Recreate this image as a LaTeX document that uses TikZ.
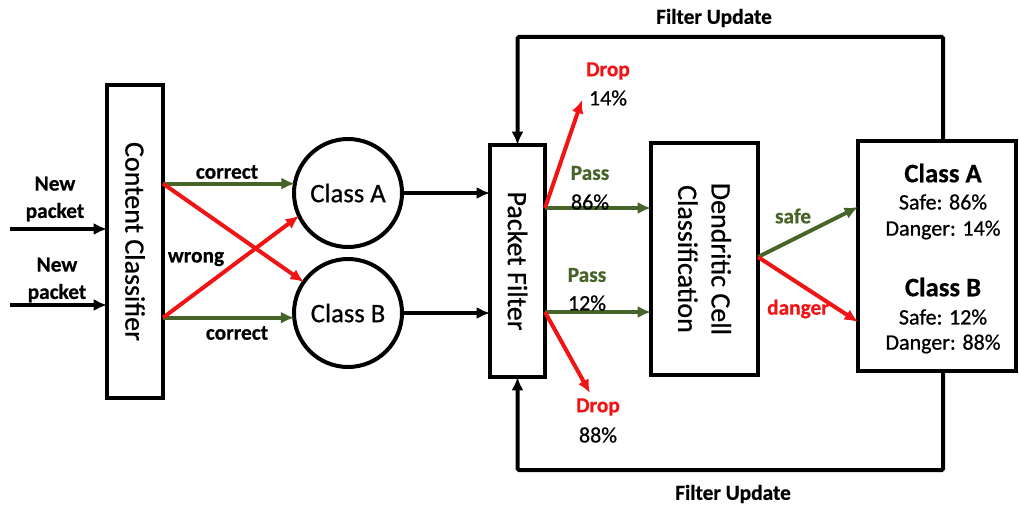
\documentclass[tikz,border=0pt]{standalone}
\usepackage{fontspec}
\setmainfont{Carlito}[FakeBold=0.7,BoldFeatures={FakeBold=0.6}]
\usetikzlibrary{arrows.meta,calc}
\definecolor{dgreen}{RGB}{70,100,40}
\definecolor{dred}{RGB}{240,20,20}
\begin{document}
\begin{tikzpicture}[x=0.75pt,y=-0.75pt,
  box/.style={draw,line width=3pt,inner sep=0pt,outer sep=0pt},
  circ/.style={draw,circle,line width=3pt,minimum size=81pt,inner sep=0pt,outer sep=0pt,font=\fontsize{20}{24}\selectfont},
  arr/.style={line width=3pt,-{Latex[length=10pt,width=9pt]}},
  garr/.style={arr,draw=dgreen},
  rarr/.style={arr,draw=dred},
  big/.style={font=\fontsize{21}{25}\selectfont,rotate=-90,align=center},
  lbl/.style={font=\bfseries\fontsize{16}{20}\selectfont,align=center,inner sep=0pt},
  blk/.style={font=\bfseries\fontsize{16}{20.5}\selectfont,align=center,inner sep=0pt},
  num/.style={font=\fontsize{16.5}{20}\selectfont,inner sep=0pt}]
\useasboundingbox (0,0) rectangle (1019,506);
% boxes
\node[box,minimum width=42pt,minimum height=234.75pt] (cc) at (135,241.5) {};
\node[big] at (cc.center) {Content Classifier};
\node[circ] (a) at (348,193) {Class A};
\node[circ] (b) at (348,313) {Class B};
\node[box,minimum width=41.25pt,minimum height=174pt] (pf) at (517.5,261) {};
\node[big] at (pf.center) {Packet Filter};
\node[box,minimum width=80.25pt,minimum height=174pt] (dc) at (704.5,259) {};
\node[big] at (dc.center) {Dendritic Cell\\Classification};
\node[box,minimum width=118.5pt,minimum height=172.5pt] (rb) at (937,256) {};
\node[font=\bfseries\fontsize{20}{24}\selectfont,inner sep=0pt] (rca) at (943,173) {Class A};
\node[num] (rsa) at (943,202) {Safe: 86\%};
\node[num] (rda) at (943,230) {Danger: 14\%};
\node[font=\bfseries\fontsize{20}{24}\selectfont,inner sep=0pt] (rcb) at (943,287) {Class B};
\node[num] (rsb) at (943,317) {Safe: 12\%};
\node[num] (rdb) at (943,344) {Danger: 88\%};
% inputs
\coordinate (in1) at (10,229);
\coordinate (in2) at (10,305);
\draw[arr] (in1) -- (in1 -| cc.west);
\draw[arr] (in2) -- (in2 -| cc.west);
\node[blk] (np1) at (55,199) {New\\packet};
\node[blk] (np2) at (57,280) {New\\packet};
% classifier outputs
\draw[garr] (cc.east |- a.170) -- (a.170);
\draw[garr] (cc.east |- b.185) -- (b.185);
\draw[rarr] (cc.east |- a.170) -- (b.145);
\draw[rarr] (cc.east |- b.185) -- (a.205);
\node[blk] (lc1) at (227,172) {correct};
\node[blk] (lc2) at (237,333) {correct};
\node[blk] (lw) at (196,259) {wrong};
% circles to filter
\draw[arr] (a.east) -- (a.east -| pf.west);
\draw[arr] (b.east) -- (b.east -| pf.west);
% filter outputs
\coordinate (p1) at ($(pf.east)+(0,-53)$);
\coordinate (p2) at ($(pf.east)+(0,51)$);
\coordinate (d1) at (582,100);
\coordinate (d2) at (590,393);
\draw[garr] (p1) -- (p1 -| dc.west);
\draw[garr] (p2) -- (p2 -| dc.west);
\draw[rarr] (p1) -- (d1);
\draw[rarr] (p2) -- (d2);
\node[lbl,text=dred] (ld1) at (608,71) {Drop};
\node[num] (n14) at (608,98) {14\%};
\node[lbl,text=dgreen] (lp1) at (590,173) {Pass};
\node[num] (n86) at (590,202) {86\%};
\node[lbl,text=dgreen] (lp2) at (587,275) {Pass};
\node[num] (n12) at (587,303) {12\%};
\node[lbl,text=dred] (ld2) at (598,407) {Drop};
\node[num] (n88) at (598,435) {88\%};
% dendritic outputs
\coordinate (dco) at ($(dc.east)+(0,-2)$);
\draw[garr] (dco) -- ($(rb.west)+(0,-49)$);
\draw[rarr] (dco) -- ($(rb.west)+(0,66)$);
\node[lbl,text=dgreen] (ls) at (793,216) {safe};
\node[lbl,text=dred] (ldg) at (798,309) {danger};
% feedback
\coordinate (rt) at ($(rb.north)+(6,0)$);
\coordinate (rbo) at ($(rb.south)+(6,0)$);
\draw[arr,rounded corners=1pt] (rt) -- ++(0,-104) -| (pf.north);
\draw[arr,rounded corners=1pt] (rbo) -- ++(0,99) -| (pf.south);
\node[lbl] (fu1) at (714,18) {Filter Update};
\node[lbl] (fu2) at (733,494) {Filter Update};
\end{tikzpicture}
\end{document}
